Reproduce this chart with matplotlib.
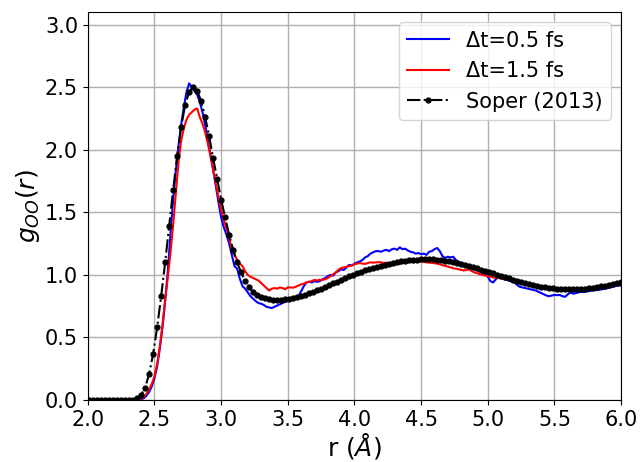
import numpy as np
import matplotlib
matplotlib.use('Agg')
import matplotlib.pyplot as plt

# Soper (2013) reference, 0.03 A grid from 2.01 to 6.00
r_soper = np.round(np.arange(67, 201) * 0.03, 2)
g_soper = [
    0.0, 0.0, 0.0, 0.0, 0.0, 0.0, 0.0, 0.0, 0.0, 0.0, 0.0,
    0.003, 0.013, 0.04, 0.10, 0.21, 0.37, 0.58, 0.83, 1.10, 1.39,
    1.68, 1.95, 2.18, 2.36, 2.46, 2.50, 2.47, 2.39, 2.26, 2.11,
    1.93, 1.77, 1.60, 1.46, 1.32, 1.20, 1.10, 1.02, 0.95, 0.90,
    0.865, 0.84, 0.825, 0.813, 0.806, 0.803, 0.802, 0.803, 0.806, 0.810,
    0.816, 0.823, 0.832, 0.842, 0.853, 0.865, 0.878, 0.891, 0.905, 0.919,
    0.933, 0.947, 0.961, 0.975, 0.988, 1.001, 1.013, 1.025, 1.036, 1.047,
    1.057, 1.066, 1.075, 1.083, 1.090, 1.097, 1.103, 1.108, 1.113, 1.117,
    1.120, 1.122, 1.124, 1.125, 1.125, 1.124, 1.122, 1.119, 1.115, 1.110,
    1.104, 1.097, 1.089, 1.081, 1.072, 1.063, 1.053, 1.043, 1.033, 1.023,
    1.013, 1.003, 0.993, 0.983, 0.973, 0.963, 0.954, 0.945, 0.936, 0.928,
    0.920, 0.913, 0.907, 0.901, 0.896, 0.892, 0.889, 0.887, 0.885, 0.885,
    0.885, 0.886, 0.888, 0.891, 0.894, 0.898, 0.903, 0.908, 0.913, 0.919,
    0.925, 0.932, 0.940,
]

# simulations, 0.02 A grid from 2.00 to 6.00
r_sim = np.round(np.arange(0, 201) * 0.02 + 2.0, 2)
g_dt05 = [
    0.0, 0.0, 0.0, 0.0, 0.0, 0.0, 0.0, 0.0, 0.0, 0.0,
    0.0, 0.0, 0.0, 0.0, 0.0, 0.0, 0.0, 0.0, 0.0, 0.0,
    0.005, 0.015, 0.035, 0.065, 0.11, 0.175, 0.27, 0.41, 0.58, 0.79,
    1.03, 1.33, 1.60, 1.83, 2.03, 2.20, 2.34, 2.46, 2.53, 2.50,
    2.47, 2.44, 2.38, 2.30, 2.20, 2.08, 1.96, 1.84, 1.71, 1.58,
    1.46, 1.38, 1.32, 1.25, 1.16, 1.07, 1.05, 0.97, 0.91, 0.89,
    0.86, 0.83, 0.81, 0.79, 0.775, 0.77, 0.76, 0.745, 0.74, 0.735,
    0.745, 0.755, 0.765, 0.775, 0.785, 0.79, 0.80, 0.81, 0.815, 0.83,
    0.87, 0.91, 0.94, 0.945, 0.94, 0.95, 0.945, 0.95, 0.965, 0.975,
    0.99, 1.0, 0.995, 1.02, 1.03, 1.045, 1.04, 1.06, 1.08, 1.075,
    1.09, 1.10, 1.107, 1.12, 1.14, 1.15, 1.17, 1.18, 1.19, 1.19,
    1.185, 1.195, 1.20, 1.19, 1.205, 1.21, 1.20, 1.22, 1.205, 1.21,
    1.195, 1.185, 1.18, 1.17, 1.175, 1.165, 1.17, 1.16, 1.185, 1.19,
    1.205, 1.215, 1.19, 1.15, 1.135, 1.145, 1.14, 1.145, 1.12, 1.105,
    1.095, 1.085, 1.075, 1.06, 1.05, 1.045, 1.035, 1.03, 1.015, 1.01,
    0.985, 0.95, 0.94, 0.965, 0.985, 0.975, 0.965, 0.96, 0.955, 0.945,
    0.94, 0.92, 0.905, 0.90, 0.895, 0.89, 0.885, 0.88, 0.875, 0.865,
    0.855, 0.845, 0.835, 0.83, 0.835, 0.84, 0.838, 0.84, 0.83, 0.825,
    0.845, 0.86, 0.85, 0.855, 0.86, 0.865, 0.862, 0.868, 0.87, 0.875,
    0.88, 0.878, 0.882, 0.886, 0.89, 0.895, 0.90, 0.905, 0.912, 0.915,
    0.915,
]
g_dt15 = [
    0.0, 0.0, 0.0, 0.0, 0.0, 0.0, 0.0, 0.0, 0.0, 0.0,
    0.0, 0.0, 0.0, 0.0, 0.0, 0.0, 0.0, 0.0, 0.0, 0.003,
    0.01, 0.025, 0.05, 0.085, 0.13, 0.19, 0.29, 0.43, 0.60, 0.80,
    0.98, 1.18, 1.40, 1.65, 1.90, 2.07, 2.17, 2.24, 2.28, 2.30,
    2.32, 2.33, 2.26, 2.21, 2.14, 2.05, 1.95, 1.84, 1.73, 1.62,
    1.52, 1.44, 1.37, 1.29, 1.21, 1.16, 1.12, 1.09, 1.07, 1.03,
    1.0, 0.985, 0.975, 0.965, 0.955, 0.935, 0.915, 0.895, 0.875, 0.89,
    0.895, 0.89, 0.90, 0.895, 0.886, 0.90, 0.90, 0.898, 0.905, 0.915,
    0.925, 0.93, 0.94, 0.946, 0.95, 0.96, 0.955, 0.962, 0.96, 0.965,
    0.975, 0.99, 1.005, 1.02, 1.04, 1.055, 1.06, 1.065, 1.07, 1.075,
    1.085, 1.09, 1.095, 1.09, 1.088, 1.095, 1.10, 1.098, 1.10, 1.102,
    1.10, 1.095, 1.098, 1.093, 1.09, 1.093, 1.09, 1.088, 1.095, 1.10,
    1.10, 1.105, 1.10, 1.105, 1.108, 1.107, 1.105, 1.10, 1.098, 1.096,
    1.093, 1.09, 1.085, 1.078, 1.072, 1.067, 1.06, 1.053, 1.05, 1.045,
    1.04, 1.035, 1.04, 1.045, 1.03, 1.02, 1.015, 1.005, 1.0, 0.995,
    0.99, 0.985, 0.98, 0.978, 0.975, 0.972, 0.97, 0.968, 0.962, 0.955,
    0.95, 0.945, 0.94, 0.935, 0.93, 0.922, 0.918, 0.912, 0.908, 0.905,
    0.90, 0.897, 0.893, 0.89, 0.888, 0.888, 0.886, 0.885, 0.886, 0.884,
    0.886, 0.887, 0.888, 0.889, 0.891, 0.893, 0.895, 0.898, 0.90, 0.903,
    0.906, 0.909, 0.912, 0.915, 0.918, 0.922, 0.926, 0.93, 0.935, 0.94,
    0.944,
]

fig = plt.figure(figsize=(6.41, 4.62), dpi=100)
ax = fig.add_axes([0.137, 0.134, 0.832, 0.840])

ax.plot(r_sim, g_dt05, color='blue', lw=1.5, label='Δt=0.5 fs')
ax.plot(r_sim, g_dt15, color='red', lw=1.5, label='Δt=1.5 fs')
ax.plot(r_soper, g_soper, color='black', ls='-.', lw=1.5, marker='o',
        markersize=3.5, label='Soper (2013)')

ax.set_xlim(2.0, 6.0)
ax.set_ylim(0.0, 3.1)
ax.set_xticks([2.0, 2.5, 3.0, 3.5, 4.0, 4.5, 5.0, 5.5, 6.0])
ax.set_yticks([0.0, 0.5, 1.0, 1.5, 2.0, 2.5, 3.0])
ax.tick_params(labelsize=15)
ax.grid(True, color='#b0b0b0', lw=1.0)
ax.set_xlabel(r'r ($\AA$)', fontsize=18, labelpad=1)
ax.set_ylabel(r'$g_{OO}(r)$', fontsize=18, labelpad=2)
ax.legend(loc='upper right', fontsize=15)

plt.savefig('out.png', dpi=100)
